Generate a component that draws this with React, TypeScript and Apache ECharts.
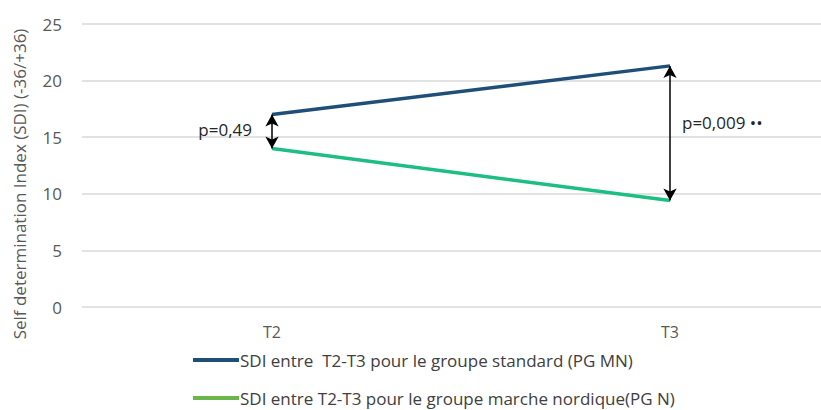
import React, { useEffect, useRef } from "react";
import * as echarts from "echarts";

const categories = ["T2", "T3"];
const standardValues = [17.0, 21.3];
const nordicValues = [14.0, 9.4];
const pLabels = ["p=0,49", "p=0,009 ••"];
const pLabelValues = [15.7, 16.3];
const seriesNames = [
  "SDI entre  T2-T3 pour le groupe standard (PG MN)",
  "SDI entre T2-T3 pour le groupe marche nordique(PG N)",
];
const yMin = 0;
const yMax = 25;
const yInterval = 5;

const FONT = "'Open Sans', sans-serif";

export default function App() {
  const ref = useRef<HTMLDivElement>(null);
  useEffect(() => {
    document.body.style.margin = "0";
    if (!ref.current) return;
    const chart = echarts.init(ref.current, null, { renderer: "svg" });
    const arrowStyle = { color: "#000000", width: 1.5, type: "solid" as const };
    chart.setOption({
      animation: false,
      textStyle: { fontFamily: FONT },
      grid: [
        { left: 82, right: 0, top: 24, bottom: 103 },
        { left: 272, right: 151, top: 24, bottom: 103 },
      ],
      xAxis: [
        { gridIndex: 0, type: "value", show: false, min: 0, max: 1 },
        {
          gridIndex: 1,
          type: "category",
          data: categories,
          boundaryGap: false,
          axisLine: { show: false },
          axisTick: { show: false },
          axisLabel: { color: "#595959", fontSize: 16, margin: 17, fontFamily: FONT },
        },
      ],
      yAxis: [
        {
          gridIndex: 0,
          type: "value",
          min: yMin,
          max: yMax,
          interval: yInterval,
          axisLine: { show: false },
          axisTick: { show: false },
          axisLabel: { color: "#595959", fontSize: 17, margin: 20, fontFamily: FONT },
          splitLine: { lineStyle: { color: "#D9D9D9", width: 1.5 } },
        },
        {
          gridIndex: 1,
          type: "value",
          min: yMin,
          max: yMax,
          interval: yInterval,
          show: false,
          splitLine: { show: false },
        },
      ],
      legend: {
        orient: "vertical",
        left: 193,
        top: 350,
        padding: 0,
        icon: "rect",
        itemWidth: 46,
        itemHeight: 4,
        itemGap: 18,
        textStyle: { color: "#404040", fontSize: 17, lineHeight: 20, fontFamily: FONT, padding: [0, 0, 0, -4] },
        data: [
          { name: seriesNames[0], itemStyle: { color: "#1F4E79" } },
          { name: seriesNames[1], itemStyle: { color: "#6BB64A" } },
        ],
      },
      series: [
        {
          name: seriesNames[0],
          type: "line",
          xAxisIndex: 1,
          yAxisIndex: 1,
          data: standardValues,
          symbol: "none",
          lineStyle: { color: "#1F4E79", width: 3.5 },
          itemStyle: { color: "#1F4E79" },
          markLine: {
            silent: true,
            symbol: ["arrow", "arrow"],
            symbolSize: [10, 12],
            label: { show: false },
            lineStyle: arrowStyle,
            data: categories.map((c, i) => [
              { coord: [c, standardValues[i]] },
              { coord: [c, nordicValues[i]] },
            ]),
          },
        },
        {
          name: seriesNames[1],
          type: "line",
          xAxisIndex: 1,
          yAxisIndex: 1,
          data: nordicValues,
          symbol: "none",
          lineStyle: { color: "#1DBE84", width: 3.5 },
          itemStyle: { color: "#1DBE84" },
          markPoint: {
            silent: true,
            symbol: "circle",
            symbolSize: 0,
            data: categories.map((c, i) => ({
              coord: [c, pLabelValues[i]],
              value: pLabels[i],
              label: {
                show: true,
                position: i === 0 ? "left" : "right",
                distance: i === 0 ? 20 : 12,
                formatter: pLabels[i],
                color: "#262626",
                fontSize: 17,
                fontFamily: FONT,
              },
            })),
          },
        },
      ],
      graphic: [
        {
          type: "text",
          x: 19,
          y: 184,
          rotation: Math.PI / 2,
          style: {
            text: "Self determination Index (SDI) (-36/+36)",
            fill: "#595959",
            font: `17px ${FONT}`,
            textAlign: "center",
            textVerticalAlign: "middle",
          },
        },
      ],
    });
    return () => chart.dispose();
  }, []);
  return <div ref={ref} style={{ width: 821, height: 410 }} />;
}
